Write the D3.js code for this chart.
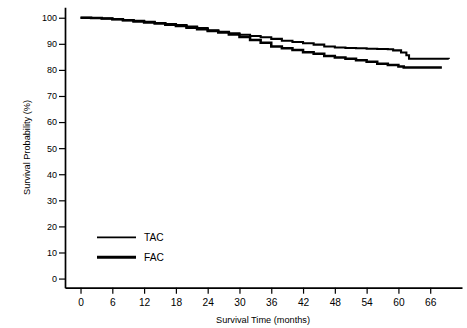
<!DOCTYPE html>
<html>
<head>
<meta charset="utf-8">
<script src="https://cdn.jsdelivr.net/npm/d3@7"></script>
<style>
  html, body { margin: 0; padding: 0; background: #fff; }
  svg { display: block; }
  text { font-family: "Liberation Sans", Arial, sans-serif; fill: #000; }
</style>
</head>
<body>
<svg id="chart" width="467" height="328"></svg>
<script>
// Data
const tacTime = [0, 2, 4, 6, 8, 10, 12, 14, 16, 18, 20, 22, 24, 26, 28, 30, 32, 34, 36, 38, 40, 42, 44, 46, 48, 50, 52, 54, 56, 58, 59, 60.5, 61.5, 62, 69.5];
const tacSurv = [100, 99.9, 99.7, 99.4, 99.1, 98.8, 98.4, 98.0, 97.6, 97.2, 96.6, 96.0, 95.2, 94.6, 94.0, 93.5, 93.0, 92.5, 91.9, 91.2, 90.7, 90.2, 89.7, 89.0, 88.6, 88.4, 88.3, 88.1, 88.0, 87.9, 87.5, 86.7, 85.6, 84.3, 84.2];
const facTime = [0, 2, 4, 6, 8, 10, 12, 14, 16, 18, 20, 22, 24, 26, 28, 30, 32, 34, 36, 38, 40, 42, 44, 46, 48, 50, 52, 54, 56, 58, 60, 61, 68.2];
const facSurv = [100, 99.9, 99.7, 99.4, 99.0, 98.6, 98.2, 97.8, 97.3, 96.8, 96.2, 95.6, 94.9, 94.3, 93.6, 92.6, 91.5, 90.4, 89.0, 88.3, 87.6, 86.8, 86.2, 85.3, 84.8, 84.3, 83.7, 83.1, 82.4, 81.9, 81.3, 80.9, 80.9];
const xTicks = [0, 6, 12, 18, 24, 30, 36, 42, 48, 54, 60, 66];
const yTicks = [0, 10, 20, 30, 40, 50, 60, 70, 80, 90, 100];
const seriesNames = ["TAC", "FAC"];

const svg = d3.select("#chart");
const x = d3.scaleLinear().domain([-2.93, 72]).range([65, 462]);
const y = d3.scaleLinear().domain([-3.5, 104]).range([287.7, 7.3]);

// Axes
const xAxis = svg.append("g").attr("transform", "translate(0,287.7)")
  .call(d3.axisBottom(x).tickValues(xTicks).tickSize(6).tickSizeOuter(0).tickPadding(5));
xAxis.selectAll("text").attr("font-size", 10.2).style("font-family", "Liberation Sans, Arial, sans-serif").attr("fill", "#000");

const yAxis = svg.append("g").attr("transform", "translate(65,0)")
  .call(d3.axisLeft(y).tickValues(yTicks).tickSize(6).tickSizeOuter(0).tickPadding(2));
yAxis.selectAll("text").attr("font-size", 9).style("font-family", "Liberation Sans, Arial, sans-serif").attr("fill", "#000");

svg.selectAll(".domain").attr("stroke", "#000").attr("stroke-width", 1.7);
svg.selectAll(".tick line").attr("stroke", "#000").attr("stroke-width", 1.2);

// Axis titles
svg.append("text").attr("x", 263).attr("y", 322.5).attr("text-anchor", "middle")
  .attr("font-size", 9.2).text("Survival Time (months)");
svg.append("text").attr("transform", "translate(30,147.5) rotate(-90)").attr("text-anchor", "middle")
  .attr("font-size", 9.2).text("Survival Probability (%)");

// Curves
const line = d3.line().x(d => x(d[0])).y(d => y(d[1])).curve(d3.curveStepAfter);
const tacData = tacTime.map((t, i) => [t, tacSurv[i]]);
const facData = facTime.map((t, i) => [t, facSurv[i]]);
svg.append("path").datum(tacData).attr("d", line).attr("fill", "none").attr("stroke", "#000").attr("stroke-width", 2.1);
svg.append("path").datum(facData).attr("d", line).attr("fill", "none").attr("stroke", "#000").attr("stroke-width", 2.5);

// Legend
const legendY = [237.3, 257.3];
const legendW = [1.7, 3];
seriesNames.forEach((name, i) => {
  svg.append("line").attr("x1", 97).attr("x2", 136).attr("y1", legendY[i]).attr("y2", legendY[i])
    .attr("stroke", "#000").attr("stroke-width", legendW[i]);
  svg.append("text").attr("x", 144).attr("y", legendY[i] + 3.7).attr("font-size", 10.2).text(name);
});
</script>
</body>
</html>
